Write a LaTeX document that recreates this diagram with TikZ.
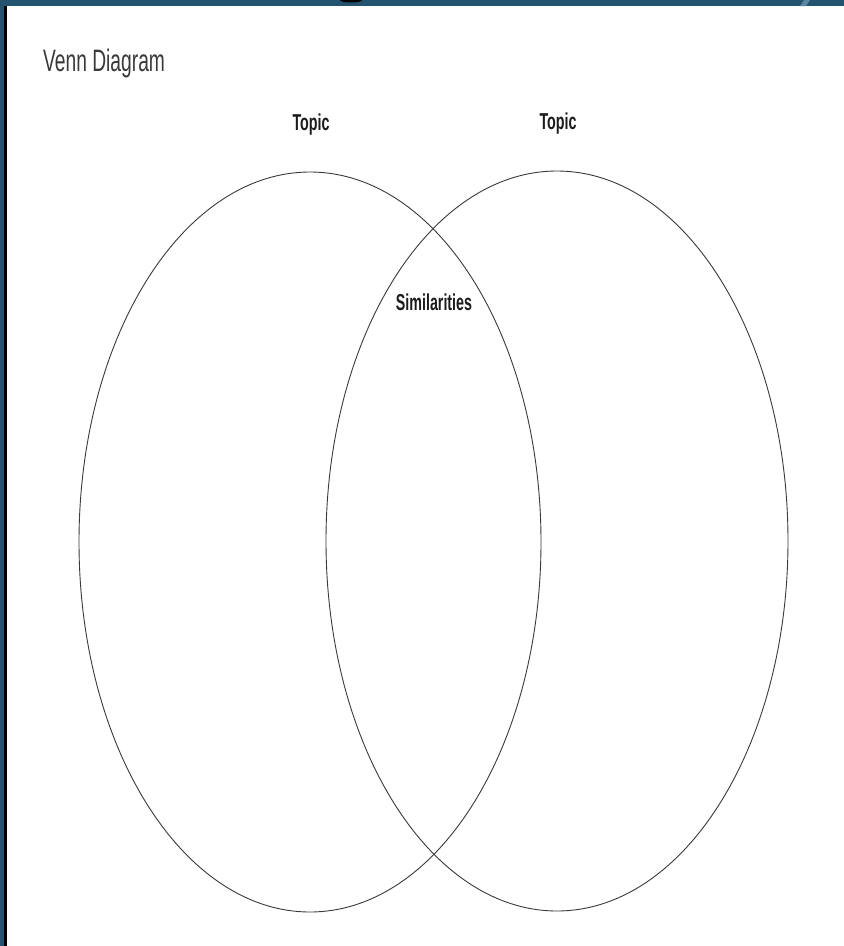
\documentclass[tikz,border=0pt]{standalone}
\usepackage{fontspec}
\setmainfont{Liberation Sans}
\newfontfamily\narrowfont[FakeStretch=0.62]{Liberation Sans}
\usepackage{xcolor}
\usetikzlibrary{shapes.geometric}
\definecolor{slideblue}{HTML}{24536F}
\definecolor{streakblue}{HTML}{5A86A0}
\definecolor{inkgrey}{HTML}{3A3A3A}
\definecolor{textblack}{HTML}{1C1C1C}

\begin{document}
\begin{tikzpicture}[x=1pt, y=-1pt,
    topicset/.style={ellipse, draw=inkgrey, line width=0.9pt, inner sep=0pt, outer sep=0pt,
                     minimum width=462pt, minimum height=740pt},
    labeltext/.style={text=textblack, inner sep=0pt, font=\narrowfont\bfseries\fontsize{23}{27}\selectfont}]
    % slide background and white page
    \fill[slideblue] (0,0) rectangle (844,946);
    \fill[black] (4,6) rectangle (7,946);
    \fill[white] (7,6) rectangle (844,946);
    \useasboundingbox (0,0) rectangle (844,946);
    \fill[streakblue] (800,6) -- (804,0) -- (810,0) -- (806,6) -- cycle;
    \fill[black] (340,0) arc[start angle=180, end angle=360, x radius=11pt, y radius=2.5pt] -- cycle;

    \node[anchor=base west, inner sep=0pt, text=inkgrey,
          font=\narrowfont\fontsize{31}{37}\selectfont] (title) at (43,71) {Venn Diagram};

    \node[topicset] (lefttopic) at (310,542) {};
    \node[topicset] (righttopic) at (557,541) {};

    \node[labeltext, anchor=base] (leftlabel) at (311,130) {Topic};
    \node[labeltext, anchor=base] (rightlabel) at (558,129) {Topic};
    \node[labeltext, anchor=base] (overlap) at (434,310) {Similarities};
\end{tikzpicture}
\end{document}
